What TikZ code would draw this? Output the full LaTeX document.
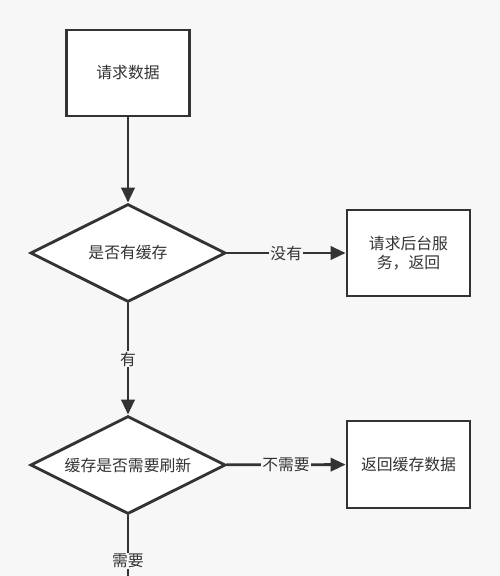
\documentclass[tikz,border=0pt]{standalone}
\usepackage{fontspec}
\setmainfont{Noto Sans CJK SC}
\usepackage{tikz}
\usetikzlibrary{shapes.geometric}
\usetikzlibrary{arrows.meta}
\definecolor{bgcol}{HTML}{F7F7F7}
\definecolor{inkcol}{HTML}{333333}

\begin{document}
\begin{tikzpicture}[line cap=round,line join=miter,>={Triangle[length=0.45cm,width=0.4cm]},x=0.03cm,y=-0.03cm, line width=2.4pt, color=inkcol, font=\fontsize{13.5pt}{16.6pt}\selectfont, box/.style={rectangle, draw, fill=white, minimum width=3.69cm, minimum height=2.58cm, align=center}, dec/.style={diamond, draw, fill=white, aspect=2, minimum width=5.85cm, minimum height=2.94cm, inner sep=0pt}, lbl/.style={fill=bgcol, inner sep=1pt}]
                        \useasboundingbox (0,0) rectangle (500,576);
                        \fill[bgcol] (0,0) rectangle (500,576);

                        \node[box] (req) at (128,73) {请求数据};
                        \node[dec] (hascache) at (128,253) {是否有缓存};
                        \node[box] (backend) at (408.5,253) {请求后台服\\务，返回};
                        \node[dec] (refresh) at (128,465) {缓存是否需要刷新};
                        \node[box, minimum height=2.61cm] (retcache) at (408.5,464.5) {返回缓存数据};
                        \coordinate (down) at (128,576);

                        \draw [->] (req) -- (hascache);
                        \draw [->] (hascache) -- node[lbl] {没有} (backend);
                        \draw [->] (hascache) -- node[lbl] {有} (refresh);
                        \draw [->] (refresh) -- node[lbl] {不需要} (retcache);
                        \draw (refresh) -- node[lbl, pos=0.75] {需要} (down);
                    \end{tikzpicture}
\end{document}
